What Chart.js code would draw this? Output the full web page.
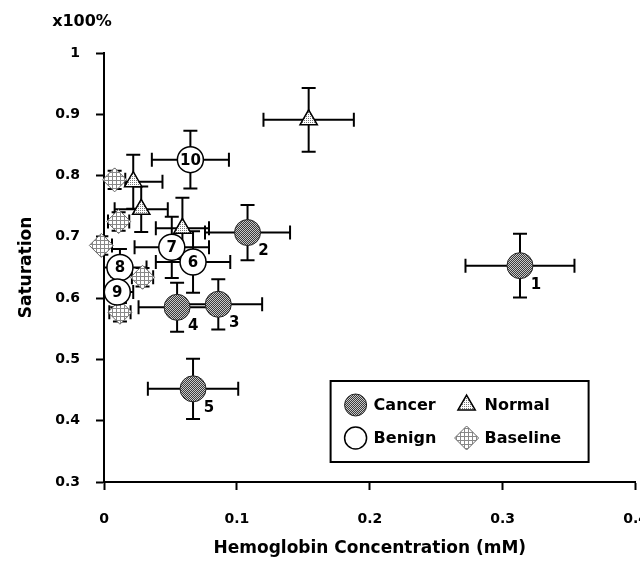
<!doctype html>
<html lang="en">
  <head>
    <meta charset="UTF-8" />
    <title>Saturation vs Hemoglobin Concentration</title>
    <script src="https://cdn.jsdelivr.net/npm/chart.js"></script>
    <style>
      body {
        margin: 0;
        background: #fff;
        overflow: hidden;
      }
      .wrap {
        width: 669px;
        height: 575px;
      }
    </style>
  </head>
  <body>
    <div class="wrap"><canvas id="chart"></canvas></div>

    <script>
      // x: hemoglobin concentration (mM), y: saturation (x100%)
      const cancerIds = ['1', '2', '3', '4', '5'];
      const cancerHb = [0.313, 0.108, 0.086, 0.055, 0.067];
      const cancerSat = [0.653, 0.707, 0.59, 0.585, 0.452];
      const cancerHbErr = [0.041, 0.032, 0.033, 0.029, 0.034];
      const cancerSatErr = [0.052, 0.045, 0.041, 0.04, 0.049];

      const normalHb = [0.154, 0.022, 0.028, 0.059];
      const normalSat = [0.891, 0.79, 0.745, 0.714];
      const normalHbErr = [0.034, 0.022, 0.02, 0.02];
      const normalSatErr = [0.052, 0.044, 0.037, 0.05];

      const benignIds = ['6', '7', '8', '9', '10'];
      const benignHb = [0.067, 0.051, 0.012, 0.01, 0.065];
      const benignSat = [0.659, 0.683, 0.65, 0.61, 0.826];
      const benignHbErr = [0.028, 0.028, 0.02, 0.012, 0.029];
      const benignSatErr = [0.05, 0.05, 0.03, 0.025, 0.047];

      const baselineHb = [0.008, 0.011, -0.002, 0.029, 0.012];
      const baselineSat = [0.793, 0.725, 0.686, 0.634, 0.577];
      const baselineHbErr = [0.008, 0.008, 0.008, 0.008, 0.008];
      const baselineSatErr = [0.015, 0.015, 0.015, 0.015, 0.015];

      const xTickLabels = ['0', '0.1', '0.2', '0.3', '0.4'];
      const yTickLabels = ['0.3', '0.4', '0.5', '0.6', '0.7', '0.8', '0.9', '1'];

      const FONT = 'DejaVu Sans';

      function points(hb, sat, hbErr, satErr, ids) {
        return hb.map((x, i) => ({
          x,
          y: sat[i],
          xErr: hbErr[i],
          yErr: satErr[i],
          id: ids ? ids[i] : null,
        }));
      }

      function makePattern(size, draw) {
        const c = document.createElement('canvas');
        c.width = c.height = size;
        const g = c.getContext('2d');
        draw(g);
        return g.createPattern(c, 'repeat');
      }

      const dotted = makePattern(2, (g) => {
        g.fillStyle = '#3a3a3a';
        g.fillRect(0, 0, 2, 2);
        g.fillStyle = '#c8c8c8';
        g.fillRect(0, 0, 1, 1);
        g.fillRect(1, 1, 1, 1);
      });
      const checker = makePattern(2, (g) => {
        g.fillStyle = '#fff';
        g.fillRect(0, 0, 2, 2);
        g.fillStyle = '#777';
        g.fillRect(0, 0, 1, 1);
      });
      const gridded = makePattern(4, (g) => {
        g.fillStyle = '#fff';
        g.fillRect(0, 0, 4, 4);
        g.fillStyle = '#888';
        g.fillRect(0, 0, 4, 1);
        g.fillRect(0, 0, 1, 4);
      });

      // error bars drawn from the scales, behind the markers
      const errorBars = {
        id: 'errorBars',
        beforeDatasetsDraw(chart) {
          const { ctx, chartArea, scales } = chart;
          const x = scales.x;
          const y = scales.y;
          const cap = 7;
          ctx.save();
          ctx.beginPath();
          ctx.rect(chartArea.left, chartArea.top, chartArea.right - chartArea.left, chartArea.bottom - chartArea.top);
          ctx.clip();
          ctx.strokeStyle = '#000';
          ctx.lineWidth = 2;
          chart.data.datasets.forEach((ds) => {
            ds.data.forEach((p) => {
              const cx = x.getPixelForValue(p.x);
              const cy = y.getPixelForValue(p.y);
              const x0 = x.getPixelForValue(p.x - p.xErr);
              const x1 = x.getPixelForValue(p.x + p.xErr);
              const y0 = y.getPixelForValue(p.y - p.yErr);
              const y1 = y.getPixelForValue(p.y + p.yErr);
              ctx.beginPath();
              ctx.moveTo(x0, cy);
              ctx.lineTo(x1, cy);
              ctx.moveTo(cx, y0);
              ctx.lineTo(cx, y1);
              ctx.moveTo(x0, cy - cap);
              ctx.lineTo(x0, cy + cap);
              ctx.moveTo(x1, cy - cap);
              ctx.lineTo(x1, cy + cap);
              ctx.moveTo(cx - cap, y0);
              ctx.lineTo(cx + cap, y0);
              ctx.moveTo(cx - cap, y1);
              ctx.lineTo(cx + cap, y1);
              ctx.stroke();
            });
          });
          ctx.restore();
        },
      };

      // sample numbers: beside cancer markers, inside benign markers
      const idLabels = {
        id: 'idLabels',
        afterDatasetsDraw(chart) {
          const { ctx } = chart;
          ctx.save();
          ctx.fillStyle = '#000';
          ctx.font = 'bold 15px "' + FONT + '"';
          ctx.textAlign = 'center';
          ctx.textBaseline = 'middle';
          chart.data.datasets.forEach((ds, di) => {
            if (!ds.idPlace) return;
            const meta = chart.getDatasetMeta(di);
            meta.data.forEach((el, i) => {
              const id = ds.data[i].id;
              if (ds.idPlace === 'beside') ctx.fillText(id, el.x + 16, el.y + 19);
              else ctx.fillText(id, el.x, el.y + 1);
            });
          });
          ctx.restore();
        },
      };

      const extras = {
        id: 'extras',
        afterDraw(chart) {
          const { ctx, chartArea } = chart;
          ctx.save();
          ctx.fillStyle = '#000';
          ctx.font = 'bold 16px "' + FONT + '"';
          ctx.textAlign = 'center';
          ctx.textBaseline = 'middle';
          ctx.fillText('x100%', chartArea.left - 22, chartArea.top - 31);

          // legend box, lower right of the plot
          const bx = chartArea.right - 305;
          const by = chartArea.bottom - 101;
          const bw = 258;
          const bh = 81;
          ctx.lineWidth = 2;
          ctx.strokeStyle = '#000';
          ctx.fillStyle = '#fff';
          ctx.fillRect(bx, by, bw, bh);
          ctx.strokeRect(bx, by, bw, bh);
          ctx.font = 'bold 16px "' + FONT + '"';
          ctx.textAlign = 'left';
          chart.data.datasets.forEach((ds, i) => {
            const col = i % 2;
            const row = Math.floor(i / 2);
            const mx = bx + 25 + col * 111;
            const my = by + 24 + row * 33;
            ctx.fillStyle = ds.pointBackgroundColor;
            ctx.strokeStyle = ds.pointBorderColor;
            ctx.lineWidth = ds.pointBorderWidth;
            Chart.helpers.drawPoint(ctx, { pointStyle: ds.pointStyle, radius: ds.legendRadius, rotation: 0, borderWidth: ds.pointBorderWidth }, mx, my);
            ctx.fillStyle = '#000';
            ctx.fillText(ds.label, mx + 18, my + 1);
          });
          ctx.restore();
        },
      };

      const tickFont = { family: FONT, weight: 'bold', size: 14 };
      const titleFont = { family: FONT, weight: 'bold', size: 17 };

      new Chart(document.getElementById('chart'), {
        type: 'scatter',
        data: {
          datasets: [
            {
              label: 'Cancer',
              data: points(cancerHb, cancerSat, cancerHbErr, cancerSatErr, cancerIds),
              pointStyle: 'circle',
              pointRadius: 13,
              legendRadius: 11,
              pointBackgroundColor: dotted,
              pointBorderColor: '#222',
              pointBorderWidth: 1,
              idPlace: 'beside',
              clip: false,
            },
            {
              label: 'Normal',
              data: points(normalHb, normalSat, normalHbErr, normalSatErr),
              pointStyle: 'triangle',
              pointRadius: 10,
              legendRadius: 10,
              pointBackgroundColor: checker,
              pointBorderColor: '#000',
              pointBorderWidth: 1.5,
              clip: false,
            },
            {
              label: 'Benign',
              data: points(benignHb, benignSat, benignHbErr, benignSatErr, benignIds),
              pointStyle: 'circle',
              pointRadius: 13,
              legendRadius: 11,
              pointBackgroundColor: '#fff',
              pointBorderColor: '#000',
              pointBorderWidth: 1.5,
              idPlace: 'inside',
              clip: false,
            },
            {
              label: 'Baseline',
              data: points(baselineHb, baselineSat, baselineHbErr, baselineSatErr),
              pointStyle: 'rectRot',
              pointRadius: 12,
              legendRadius: 12,
              pointBackgroundColor: gridded,
              pointBorderColor: '#666',
              pointBorderWidth: 1,
              clip: false,
            },
          ],
        },
        options: {
          responsive: true,
          maintainAspectRatio: false,
          animation: false,
          events: [],
          layout: { padding: { top: 53, left: 0, right: 0, bottom: 0 } },
          plugins: {
            legend: { display: false },
            tooltip: { enabled: false },
          },
          scales: {
            x: {
              type: 'linear',
              min: 0,
              max: 0.4,
              afterFit: (s) => {
                s.height = 93;
              },
              ticks: {
                stepSize: 0.1,
                color: '#000',
                font: tickFont,
                padding: 21,
                callback: (v, i) => xTickLabels[i],
              },
              grid: { drawOnChartArea: false, drawTicks: true, tickLength: 8, tickColor: '#000', tickWidth: 2 },
              border: { color: '#000', width: 2 },
              title: {
                display: true,
                text: 'Hemoglobin Concentration (mM)',
                color: '#000',
                font: titleFont,
                padding: { top: 0, bottom: 16 },
              },
            },
            y: {
              type: 'linear',
              min: 0.3,
              max: 1,
              afterFit: (s) => {
                s.width = 104;
              },
              ticks: {
                stepSize: 0.1,
                color: '#000',
                font: tickFont,
                padding: 16,
                callback: (v, i) => yTickLabels[i],
              },
              grid: { drawOnChartArea: false, drawTicks: true, tickLength: 8, tickColor: '#000', tickWidth: 2 },
              border: { color: '#000', width: 2 },
              title: {
                display: true,
                text: 'Saturation',
                color: '#000',
                font: titleFont,
                padding: { top: 16, bottom: 0 },
              },
            },
          },
        },
        plugins: [errorBars, idLabels, extras],
      });
    </script>
  </body>
</html>
